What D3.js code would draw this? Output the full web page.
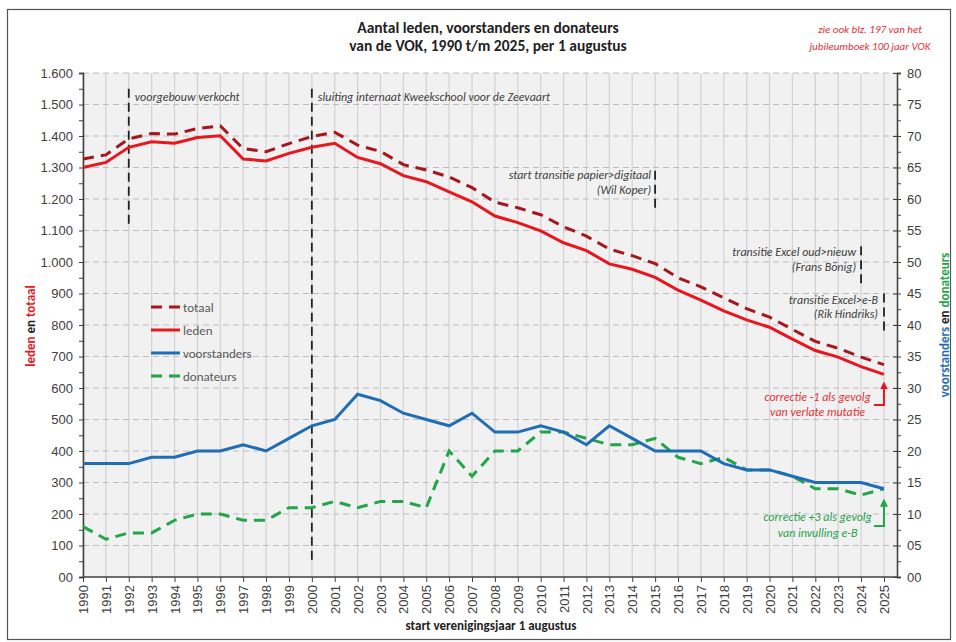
<!DOCTYPE html>
<html>
<head>
    <script src="https://d3js.org/d3.v7.min.js"></script>
    <style>
        body { margin: 0; background: #fff; }
        svg { font-family: Carlito, "Liberation Sans Narrow", "Open Sans", sans-serif; }
        .tick text { fill: #404040; }
        .note { font-style: italic; font-size: 12px; fill: #404040; }
    </style>
</head>
<body>
    <svg width="956" height="642"></svg>
    <script>
        // Values
        let years = [1990, 1991, 1992, 1993, 1994, 1995, 1996, 1997, 1998, 1999,
                     2000, 2001, 2002, 2003, 2004, 2005, 2006, 2007, 2008, 2009,
                     2010, 2011, 2012, 2013, 2014, 2015, 2016, 2017, 2018, 2019,
                     2020, 2021, 2022, 2023, 2024, 2025];
        let totaal = [1327, 1340, 1391, 1408, 1406, 1424, 1432, 1360, 1350, 1376,
                      1398, 1412, 1371, 1351, 1309, 1292, 1270, 1236, 1190, 1172,
                      1150, 1112, 1082, 1041, 1020, 995, 950, 921, 886, 852,
                      825, 786, 748, 726, 698, 674];
        let leden = [1300, 1316, 1364, 1382, 1377, 1395, 1401, 1327, 1321, 1345,
                     1364, 1377, 1332, 1312, 1274, 1255, 1223, 1191, 1146, 1125,
                     1099, 1061, 1036, 994, 977, 951, 911, 879, 845, 816,
                     793, 755, 719, 698, 668, 643];
        let voorstanders = [18, 18, 18, 19, 19, 20, 20, 21, 20, 22,
                            24, 25, 29, 28, 26, 25, 24, 26, 23, 23,
                            24, 23, 21, 24, 22, 20, 20, 20, 18, 17,
                            17, 16, 15, 15, 15, 14];
        let donateurs = [8, 6, 7, 7, 9, 10, 10, 9, 9, 11,
                         11, 12, 11, 12, 12, 11, 20, 16, 20, 20,
                         23, 23, 22, 21, 21, 22, 19, 18, 19, 17,
                         17, 16, 14, 14, 13, 14];
        let leftTicks = [0, 100, 200, 300, 400, 500, 600, 700, 800, 900, 1000, 1100, 1200, 1300, 1400, 1500, 1600];
        let rightTicks = [0, 5, 10, 15, 20, 25, 30, 35, 40, 45, 50, 55, 60, 65, 70, 75, 80];

        let colors = { totaal: "#a5171d", leden: "#e8161e", voorstanders: "#1f6db5", donateurs: "#22a448" };

        let svg = d3.select("svg");
        let pL = 83, pR = 897, pT = 73, pB = 577;

        let x = d3.scaleLinear().domain([1990, 2025.57]).range([pL, pR]);
        let yL = d3.scaleLinear().domain([0, 1600]).range([pB, pT]);
        let yR = d3.scaleLinear().domain([0, 80]).range([pB, pT]);

        // outer frame
        svg.append("rect").attr("x", 7.5).attr("y", 9.5).attr("width", 943).attr("height", 630)
            .attr("fill", "none").attr("stroke", "#555").attr("stroke-width", 1.2);

        // plot background + grid
        svg.append("rect").attr("x", pL).attr("y", pT).attr("width", pR - pL).attr("height", pB - pT)
            .attr("fill", "#f1f1f1");
        svg.append("g").selectAll("line").data(years).join("line")
            .attr("x1", d => x(d)).attr("x2", d => x(d))
            .attr("y1", pT).attr("y2", pB)
            .attr("stroke", "#d2d2d2").attr("stroke-width", 1.2);
        svg.append("g").selectAll("line").data(leftTicks.slice(1)).join("line")
            .attr("x1", pL).attr("x2", pR)
            .attr("y1", d => yL(d)).attr("y2", d => yL(d))
            .attr("stroke", "#bdbdbd").attr("stroke-width", 1.2).attr("stroke-dasharray", "6,4");

        // axes
        let fmtL = d3.formatLocale({ decimal: ",", thousands: ".", grouping: [3], currency: ["", ""] }).format(",");
        let axL = svg.append("g").attr("transform", `translate(${pL},0)`)
            .call(d3.axisLeft(yL).tickValues(leftTicks).tickFormat(d => d === 0 ? "00" : fmtL(d)).tickSize(4).tickPadding(6));
        svg.append("g").attr("transform", `translate(${pL},0)`)
            .call(d3.axisLeft(yL).tickValues(d3.range(50, 1600, 100)).tickFormat("").tickSize(4));

        let axR = svg.append("g").attr("transform", `translate(${pR},0)`)
            .call(d3.axisRight(yR).tickValues(rightTicks).tickFormat(d3.format("02d")).tickSize(4).tickPadding(6));
        axR.selectAll(".tick line").attr("x1", -4);
        svg.append("g").attr("transform", `translate(${pR},0)`)
            .call(d3.axisRight(yR).tickValues(d3.range(2.5, 80, 5)).tickFormat("").tickSize(4));

        let axB = svg.append("g").attr("transform", `translate(0,${pB})`)
            .call(d3.axisBottom(x).tickValues(years).tickFormat(d3.format("d")).tickSize(5));
        axB.selectAll(".tick text")
            .attr("text-anchor", "end")
            .attr("x", 0).attr("y", 0).attr("dy", "0.35em")
            .attr("transform", "translate(0,8) rotate(-90)");

        svg.selectAll(".domain").attr("stroke", "#404040").attr("stroke-width", 1.3);
        svg.selectAll(".tick line").attr("stroke", "#404040");
        svg.selectAll(".tick text").attr("font-size", 13).attr("font-family", "inherit");
        axB.select(".domain").attr("d", `M${pL},0H${pR}`);

        // annotation lines
        let marks = [
            { year: 1992, from: 1550, to: 1120 },
            { year: 2000, from: 1550, to: 40 },
            { year: 2015, from: 1290, to: 1160 },
            { year: 2024, from: 1050, to: 925 },
            { year: 2025, from: 900, to: 770 }
        ];
        svg.append("g").selectAll("line").data(marks).join("line")
            .attr("x1", d => x(d.year)).attr("x2", d => x(d.year))
            .attr("y1", d => yL(d.from)).attr("y2", d => yL(d.to))
            .attr("stroke", "#222").attr("stroke-width", 1.8).attr("stroke-dasharray", "9,5");

        let notes = [
            { year: 1992, v: 1510, text: "voorgebouw verkocht", anchor: "start", dx: 6 },
            { year: 2000, v: 1510, text: "sluiting internaat Kweekschool voor de Zeevaart", anchor: "start", dx: 6 },
            { year: 2015, v: 1263, text: "start transitie papier>digitaal", anchor: "end", dx: -4 },
            { year: 2015, v: 1215, text: "(Wil Koper)", anchor: "end", dx: -4 },
            { year: 2024, v: 1020, text: "transitie Excel oud>nieuw", anchor: "end", dx: -5 },
            { year: 2024, v: 972, text: "(Frans Bönig)", anchor: "end", dx: -5 },
            { year: 2025, v: 867, text: "transitie Excel>e-B", anchor: "end", dx: -6 },
            { year: 2025, v: 822, text: "(Rik Hindriks)", anchor: "end", dx: -6 }
        ];
        svg.append("g").selectAll("text").data(notes).join("text")
            .attr("class", "note")
            .attr("x", d => x(d.year) + d.dx).attr("y", d => yL(d.v))
            .attr("text-anchor", d => d.anchor)
            .text(d => d.text);

        // series lines
        let lineL = d3.line().x((d, i) => x(years[i])).y(d => yL(d));
        let lineR = d3.line().x((d, i) => x(years[i])).y(d => yR(d));

        svg.append("path").datum(donateurs).attr("d", lineR)
            .attr("fill", "none").attr("stroke", colors.donateurs).attr("stroke-width", 3)
            .attr("stroke-dasharray", "11,7");
        svg.append("path").datum(voorstanders).attr("d", lineR)
            .attr("fill", "none").attr("stroke", colors.voorstanders).attr("stroke-width", 3);
        svg.append("path").datum(totaal).attr("d", lineL)
            .attr("fill", "none").attr("stroke", colors.totaal).attr("stroke-width", 3)
            .attr("stroke-dasharray", "11,7");
        svg.append("path").datum(leden).attr("d", lineL)
            .attr("fill", "none").attr("stroke", colors.leden).attr("stroke-width", 3);

        // correction arrows
        let defs = svg.append("defs");
        [["arR", colors.leden], ["arG", colors.donateurs]].forEach(([id, c]) => {
            defs.append("marker").attr("id", id).attr("viewBox", "0 0 10 10")
                .attr("refX", 5).attr("refY", 5).attr("markerWidth", 4).attr("markerHeight", 4)
                .attr("orient", "auto-start-reverse")
                .append("path").attr("d", "M0,0L10,5L0,10z").attr("fill", c);
        });
        let xe = x(2025);
        svg.append("path").attr("d", `M${xe - 10},${yL(546)}H${xe}V${yL(608)}`)
            .attr("fill", "none").attr("stroke", colors.leden).attr("stroke-width", 2).attr("marker-end", "url(#arR)");
        svg.append("path").attr("d", `M${xe - 10},${yR(8.1)}H${xe}V${yR(11.8)}`)
            .attr("fill", "none").attr("stroke", colors.donateurs).attr("stroke-width", 2).attr("marker-end", "url(#arG)");

        let corr = [
            { v: 560, text: "correctie -1 als gevolg", c: "#e0323a" },
            { v: 512, text: "van verlate mutatie", c: "#e0323a" },
            { v: 178, text: "correctie +3 als gevolg", c: "#26a04e" },
            { v: 128, text: "van invulling e-B", c: "#26a04e" }
        ];
        svg.append("g").selectAll("text").data(corr).join("text")
            .attr("class", "note").attr("x", x(2022.1)).attr("y", d => yL(d.v))
            .attr("text-anchor", "middle").style("fill", d => d.c)
            .text(d => d.text);

        // legend
        let legend = [
            { name: "totaal", dash: "11,7" },
            { name: "leden", dash: null },
            { name: "voorstanders", dash: null },
            { name: "donateurs", dash: "11,7" }
        ];
        let lg = svg.append("g").selectAll("g").data(legend).join("g")
            .attr("transform", (d, i) => `translate(151,${307 + i * 23})`);
        lg.append("line").attr("x1", 0).attr("x2", 29)
            .attr("stroke", d => colors[d.name]).attr("stroke-width", 3)
            .attr("stroke-dasharray", d => d.dash);
        lg.append("text").attr("x", 32).attr("y", 4.5).attr("font-size", 13).attr("fill", "#595959")
            .text(d => d.name);

        // titles
        svg.append("text").attr("x", 488).attr("y", 33).attr("text-anchor", "middle")
            .attr("font-size", 15.5).attr("font-weight", "bold").attr("fill", "#222")
            .text("Aantal leden, voorstanders en donateurs");
        svg.append("text").attr("x", 488).attr("y", 51).attr("text-anchor", "middle")
            .attr("font-size", 15.5).attr("font-weight", "bold").attr("fill", "#222")
            .text("van de VOK, 1990 t/m 2025, per 1 augustus");
        svg.append("text").attr("class", "note").attr("x", 870).attr("y", 33).attr("text-anchor", "middle")
            .style("font-size", "11px").style("fill", "#e0323a").text("zie ook blz. 197 van het");
        svg.append("text").attr("class", "note").attr("x", 870).attr("y", 50).attr("text-anchor", "middle")
            .style("font-size", "11px").style("fill", "#e0323a").text("jubileumboek 100 jaar VOK");

        svg.append("text").attr("x", 491).attr("y", 630).attr("text-anchor", "middle")
            .attr("font-size", 13).attr("font-weight", "bold").attr("fill", "#222")
            .text("start verenigingsjaar 1 augustus");

        let tl = svg.append("text").attr("transform", "translate(35,326) rotate(-90)")
            .attr("text-anchor", "middle").attr("font-size", 13).attr("font-weight", "bold");
        tl.append("tspan").attr("fill", colors.leden).text("leden");
        tl.append("tspan").attr("fill", "#222").text(" en ");
        tl.append("tspan").attr("fill", colors.leden).text("totaal");

        let tr = svg.append("text").attr("transform", "translate(949,325) rotate(-90)")
            .attr("text-anchor", "middle").attr("font-size", 13).attr("font-weight", "bold");
        tr.append("tspan").attr("fill", colors.voorstanders).text("voorstanders");
        tr.append("tspan").attr("fill", "#222").text(" en ");
        tr.append("tspan").attr("fill", colors.donateurs).text("donateurs");
    </script>
</body>
</html>
